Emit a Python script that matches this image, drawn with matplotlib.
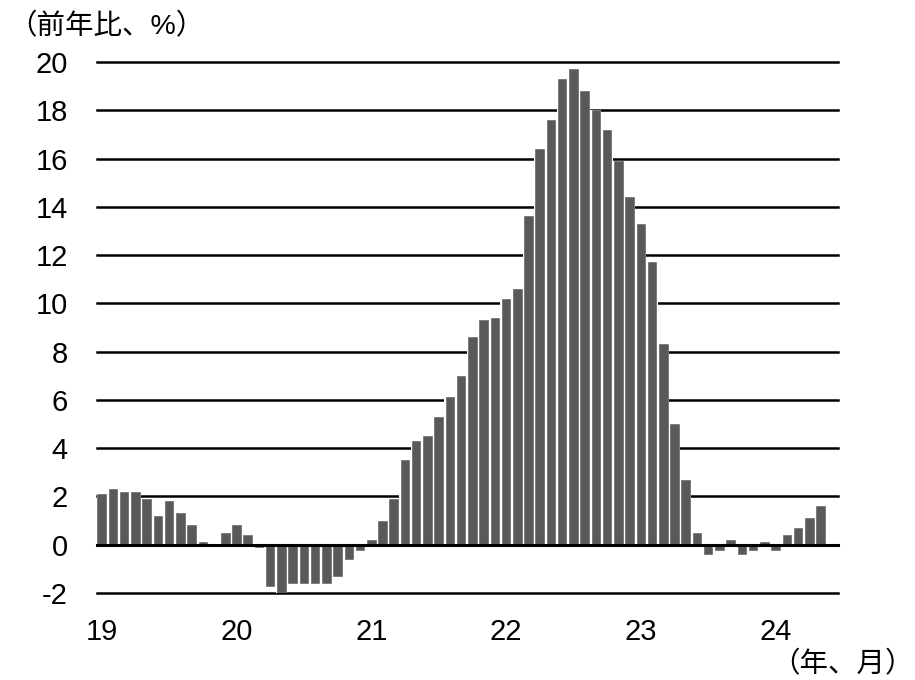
import matplotlib
matplotlib.use("Agg")
import matplotlib.pyplot as plt
import numpy as np

plt.rcParams['font.family'] = ['Liberation Sans', 'Noto Sans CJK JP', 'DejaVu Sans']

# Monthly values, Jan 2019 - May 2024 (前年比, %)
values = [
    2.1, 2.3, 2.2, 2.2, 1.9, 1.2, 1.8, 1.3, 0.8, 0.1, 0.0, 0.5,   # 2019
    0.8, 0.4, -0.1, -1.7, -2.0, -1.6, -1.6, -1.6, -1.6, -1.3, -0.6, -0.2,  # 2020
    0.2, 1.0, 1.9, 3.5, 4.3, 4.5, 5.3, 6.1, 7.0, 8.6, 9.3, 9.4,   # 2021
    10.2, 10.6, 13.6, 16.4, 17.6, 19.3, 19.7, 18.8, 18.0, 17.2, 15.9, 14.4,  # 2022
    13.3, 11.7, 8.3, 5.0, 2.7, 0.5, -0.4, -0.2, 0.2, -0.4, -0.2, 0.1,  # 2023
    -0.2, 0.4, 0.7, 1.1, 1.6,  # 2024
]
year_labels = ["19", "20", "21", "22", "23", "24"]
y_ticks = [-2, 0, 2, 4, 6, 8, 10, 12, 14, 16, 18, 20]

fig = plt.figure(figsize=(9.15, 6.8), dpi=100)
ax = fig.add_axes([97/915, 1 - 593/680, (838 - 97)/915, (593 - 62)/680])

x = np.arange(len(values))
for yv in y_ticks:
    ax.axhline(yv, color='black', lw=2.2 if yv == 0 else 1.8, zorder=1 if yv != 0 else 3, clip_on=False)
# white backing so gridlines are hidden between adjacent bars
ax.bar(x, values, width=1.0, color='white', linewidth=0, zorder=1.5)
ax.bar(x, values, width=0.76, color='#595959', edgecolor='#6a6a6a', linewidth=0.5, zorder=2)

ax.set_xlim(-0.42, 65.56)
ax.set_ylim(-2, 20)
ax.set_yticks(y_ticks)
ax.set_yticklabels([str(v) for v in y_ticks], fontsize=21)
ax.set_xticks(np.arange(0, len(values), 12)[:len(year_labels)])
ax.set_xticklabels(year_labels, fontsize=21)
ax.tick_params(axis='y', length=0, pad=21)
ax.tick_params(axis='x', length=0, pad=18)
for s in ax.spines.values():
    s.set_visible(False)

fig.text(8/915, 1 - 27/680, "（前年比、%）", fontsize=20.5, va='center', ha='left')
fig.text(914/915, 1 - 665/680, "（年、月）", fontsize=20.5, va='center', ha='right')

fig.savefig("out.png", dpi=100)
